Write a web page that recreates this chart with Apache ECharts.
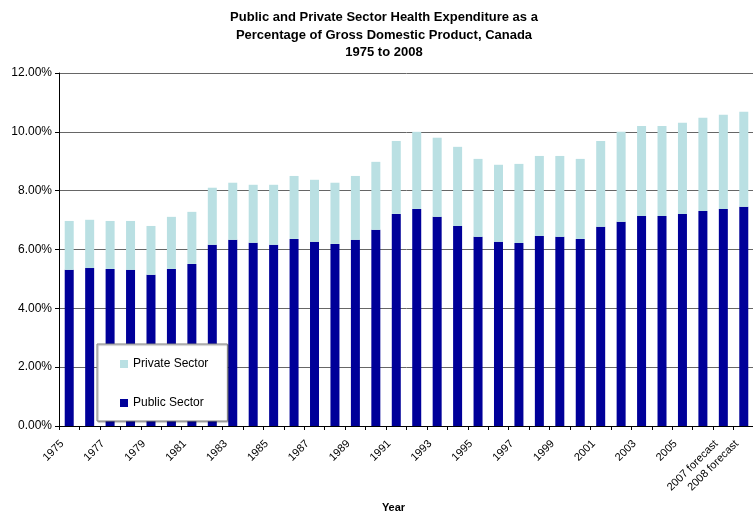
<!DOCTYPE html>
<html>
<head>
<meta charset="utf-8">
<script src="https://cdn.jsdelivr.net/npm/echarts@6/dist/echarts.min.js"></script>
<style>html,body{margin:0;padding:0;background:#fff}#c{width:753px;height:516px}</style>
</head>
<body>
<div id="c"></div>
<script>
const categories = ['1975','1976','1977','1978','1979','1980','1981','1982','1983','1984',
  '1985','1986','1987','1988','1989','1990','1991','1992','1993','1994',
  '1995','1996','1997','1998','1999','2000','2001','2002','2003','2004',
  '2005','2006','2007 forecast','2008 forecast'];
const publicSector = [5.31,5.37,5.34,5.31,5.14,5.34,5.51,6.16,6.33,6.23,
  6.16,6.36,6.26,6.19,6.33,6.67,7.21,7.38,7.11,6.80,
  6.43,6.26,6.22,6.46,6.43,6.36,6.77,6.94,7.14,7.14,
  7.21,7.31,7.38,7.45];
const totalExpenditure = [6.97,7.01,6.97,6.97,6.80,7.11,7.28,8.10,8.27,8.20,
  8.20,8.50,8.37,8.27,8.50,8.98,9.69,10.00,9.80,9.49,
  9.08,8.88,8.91,9.18,9.18,9.08,9.69,10.00,10.20,10.20,
  10.31,10.48,10.58,10.68];
const privateSector = totalExpenditure.map((t, i) => +(t - publicSector[i]).toFixed(2));
const yTicks = [0, 2, 4, 6, 8, 10, 12];

const chart = echarts.init(document.getElementById('c'), null, {renderer: 'canvas'});
const font = 'Liberation Sans, Arial, sans-serif';
chart.setOption({
  animation: false,
  backgroundColor: '#fff',
  title: {
    text: 'Public and Private Sector Health Expenditure as a\nPercentage of Gross Domestic Product, Canada\n1975 to 2008',
    left: 379,
    top: 4,
    textAlign: 'center',
    textStyle: {fontFamily: font, fontSize: 13, fontWeight: 'bold', color: '#000', lineHeight: 17.5}
  },
  legend: {
    orient: 'vertical',
    left: 97,
    top: 344,
    data: ['Private Sector', 'Public Sector'],
    itemWidth: 8,
    itemHeight: 8,
    itemGap: 27,
    padding: [14, 19, 12, 23],
    backgroundColor: '#fff',
    borderColor: '#808080',
    borderWidth: 1,
    shadowColor: 'rgba(0,0,0,0.35)',
    shadowOffsetX: 1,
    shadowOffsetY: 1,
    shadowBlur: 1,
    icon: 'rect',
    textStyle: {fontFamily: font, fontSize: 12, color: '#000'}
  },
  grid: {left: 59, top: 73, width: 695, bottom: 90, containLabel: false, outerBoundsMode: 'none'},
  xAxis: {
    type: 'category',
    data: categories,
    name: 'Year',
    nameLocation: 'middle',
    nameGap: 76,
    nameTextStyle: {fontFamily: font, fontSize: 11, fontWeight: 'bold', color: '#000', padding: [0, 26, 0, 0]},
    axisLine: {lineStyle: {color: '#000', width: 1}},
    axisTick: {show: true, alignWithLabel: false, interval: 0, length: 4, lineStyle: {color: '#000'}},
    axisLabel: {
      interval: (i) => i % 2 === 0 || i === categories.length - 1,
      rotate: 45,
      fontFamily: font,
      fontSize: 11,
      color: '#000',
      margin: 9,
      padding: [0, 10, 0, 0]
    }
  },
  yAxis: {
    type: 'value',
    min: yTicks[0],
    max: yTicks[yTicks.length - 1],
    interval: 2,
    axisLine: {show: true, lineStyle: {color: '#000', width: 1}},
    axisTick: {show: true, length: 4, lineStyle: {color: '#000'}},
    axisLabel: {
      formatter: (v) => v.toFixed(2) + '%',
      fontFamily: font,
      fontSize: 12,
      color: '#000',
      margin: 7
    },
    splitLine: {show: true, lineStyle: {color: '#666', width: 1}}
  },
  series: [
    {
      name: 'Public Sector',
      type: 'bar',
      stack: 'total',
      data: publicSector,
      barWidth: 9,
      itemStyle: {color: '#000099'}
    },
    {
      name: 'Private Sector',
      type: 'bar',
      stack: 'total',
      data: privateSector,
      barWidth: 9,
      itemStyle: {color: '#BAE0E3'}
    }
  ]
});
</script>
</body>
</html>
